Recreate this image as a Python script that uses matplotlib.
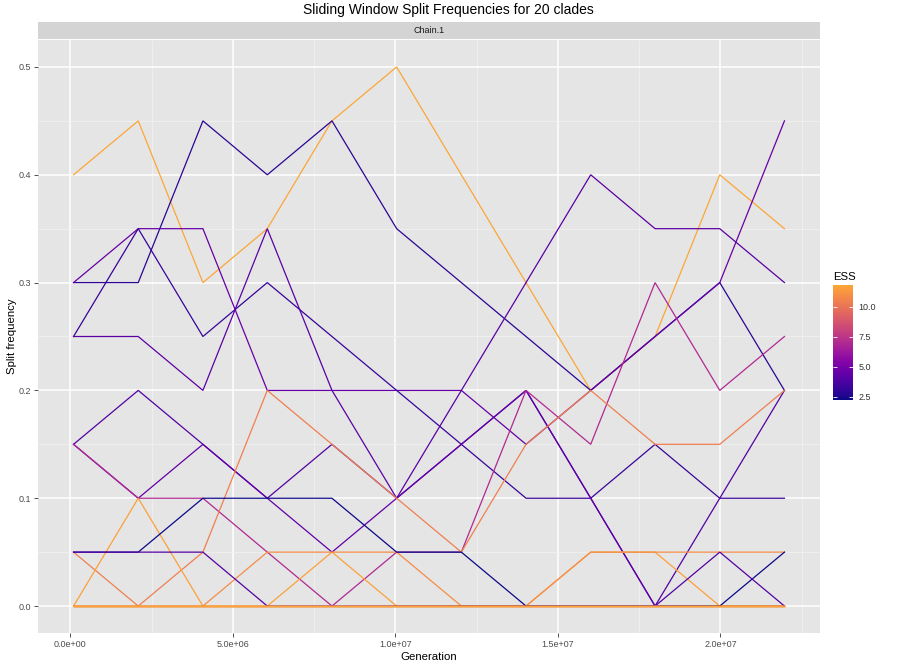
import numpy as np
import matplotlib
matplotlib.use('Agg')
import matplotlib.pyplot as plt
from matplotlib.colors import LinearSegmentedColormap, Normalize

plt.rcParams['font.family'] = ['Liberation Sans', 'DejaVu Sans']

# =============================================================================
# DATA  (split frequency of each clade per sliding window, Chain.1)
# =============================================================================

generations = [0.10e6, 2.09e6, 4.08e6, 6.06e6, 8.05e6, 10.04e6,
               12.03e6, 14.02e6, 16.01e6, 17.99e6, 19.98e6, 21.97e6]

clade_freqs = {
    'clade01': [0.40, 0.45, 0.30, 0.35, 0.45, 0.50, 0.40, 0.30, 0.20, 0.25, 0.40, 0.35],
    'clade02': [0.30, 0.30, 0.45, 0.40, 0.45, 0.35, 0.30, 0.25, 0.20, 0.25, 0.30, 0.20],
    'clade03': [0.30, 0.35, 0.35, 0.20, 0.20, 0.20, 0.20, 0.15, 0.20, 0.25, 0.30, 0.45],
    'clade04': [0.25, 0.35, 0.25, 0.30, 0.25, 0.20, 0.15, 0.10, 0.10, 0.15, 0.10, 0.10],
    'clade05': [0.25, 0.25, 0.20, 0.35, 0.20, 0.10, 0.20, 0.30, 0.40, 0.35, 0.35, 0.30],
    'clade06': [0.15, 0.20, 0.15, 0.10, 0.15, 0.10, 0.15, 0.20, 0.10, 0.00, 0.10, 0.20],
    'clade07': [0.15, 0.10, 0.15, 0.10, 0.05, 0.10, 0.15, 0.20, 0.10, 0.00, 0.00, 0.00],
    'clade08': [0.15, 0.10, 0.10, 0.05, 0.00, 0.05, 0.05, 0.20, 0.15, 0.30, 0.20, 0.25],
    'clade09': [0.05, 0.00, 0.05, 0.20, 0.15, 0.10, 0.05, 0.15, 0.20, 0.15, 0.15, 0.20],
    'clade10': [0.00, 0.10, 0.00, 0.00, 0.05, 0.00, 0.00, 0.00, 0.05, 0.05, 0.00, 0.00],
    'clade11': [0.00, 0.00, 0.00, 0.05, 0.05, 0.05, 0.00, 0.00, 0.05, 0.05, 0.05, 0.05],
    'clade12': [0.05, 0.05, 0.10, 0.10, 0.10, 0.05, 0.05, 0.00, 0.00, 0.00, 0.00, 0.05],
    'clade13': [0.05, 0.05, 0.05, 0.00, 0.00, 0.00, 0.00, 0.00, 0.00, 0.00, 0.05, 0.00],
    'clade14': [0.00, 0.00, 0.00, 0.00, 0.00, 0.00, 0.00, 0.00, 0.00, 0.00, 0.00, 0.00],
    'clade15': [0.00, 0.00, 0.00, 0.00, 0.00, 0.00, 0.00, 0.00, 0.00, 0.00, 0.00, 0.00],
    'clade16': [0.00, 0.00, 0.00, 0.00, 0.00, 0.00, 0.00, 0.00, 0.00, 0.00, 0.00, 0.00],
    'clade17': [0.00, 0.00, 0.00, 0.00, 0.00, 0.00, 0.00, 0.00, 0.00, 0.00, 0.00, 0.00],
    'clade18': [0.00, 0.00, 0.00, 0.00, 0.00, 0.00, 0.00, 0.00, 0.00, 0.00, 0.00, 0.00],
    'clade19': [0.00, 0.00, 0.00, 0.00, 0.00, 0.00, 0.00, 0.00, 0.00, 0.00, 0.00, 0.00],
    'clade20': [0.00, 0.00, 0.00, 0.00, 0.00, 0.00, 0.00, 0.00, 0.00, 0.00, 0.00, 0.00],
}

clade_ess = {
    'clade01': 11.8, 'clade02': 2.9, 'clade03': 4.5, 'clade04': 3.2,
    'clade05': 4.2, 'clade06': 3.9, 'clade07': 4.4, 'clade08': 7.0,
    'clade09': 10.4, 'clade10': 11.6, 'clade11': 10.9, 'clade12': 2.25,
    'clade13': 4.0, 'clade14': 11.2, 'clade15': 10.8, 'clade16': 11.5,
    'clade17': 10.6, 'clade18': 11.0, 'clade19': 11.4, 'clade20': 11.7,
}

x_ticks = [0.0, 5.0e6, 1.0e7, 1.5e7, 2.0e7]
x_tick_labels = ['0.0e+00', '5.0e+06', '1.0e+07', '1.5e+07', '2.0e+07']
y_ticks = [0.0, 0.1, 0.2, 0.3, 0.4, 0.5]
ess_ticks = [2.5, 5.0, 7.5, 10.0]

# =============================================================================
# PLOT
# =============================================================================

W, H = 897, 665
fig = plt.figure(figsize=(W / 100, H / 100), dpi=100)

panel_bg = '#E5E5E5'
strip_bg = '#D4D4D4'

def fx(px):
    return px / W

def fy(py):
    return 1 - py / H

ax = fig.add_axes([fx(38), fy(633), fx(820) - fx(38), fy(40) - fy(633)])
ax.set_facecolor(panel_bg)
for s in ax.spines.values():
    s.set_visible(False)

cmap = LinearSegmentedColormap.from_list(
    'plasma_trunc', plt.get_cmap('plasma')(np.linspace(0.0, 0.8, 256)))
ess_vals = list(clade_ess.values())
norm = Normalize(vmin=min(ess_vals), vmax=max(ess_vals))

for name, freqs in clade_freqs.items():
    ax.plot(generations, freqs, color=cmap(norm(clade_ess[name])), lw=0.9,
            solid_joinstyle='miter', zorder=3)

xr = generations[-1] - generations[0]
ax.set_xlim(generations[0] - 0.05 * xr, generations[-1] + 0.05 * xr)
ax.set_ylim(-0.025, 0.525)

ax.set_xticks(x_ticks)
ax.set_xticklabels(x_tick_labels)
ax.set_yticks(y_ticks)
ax.set_yticklabels([f'{v:.1f}' for v in y_ticks])
ax.set_xticks([2.5e6, 7.5e6, 1.25e7, 1.75e7, 2.25e7], minor=True)
ax.set_yticks([0.05, 0.15, 0.25, 0.35, 0.45], minor=True)
ax.grid(True, which='major', color='white', lw=1.1, zorder=1)
ax.grid(True, which='minor', color='#F2F2F2', lw=0.5, zorder=1)
ax.tick_params(which='major', length=3, width=0.6, color='#333333',
               labelsize=6.5, labelcolor='#4D4D4D', pad=2)
ax.tick_params(which='minor', length=0)
ax.set_xlabel('Generation', fontsize=8.2, labelpad=2)
ax.set_ylabel('Split frequency', fontsize=8.2, labelpad=1)

# facet strip
sax = fig.add_axes([fx(38), fy(39), fx(820) - fx(38), fy(22) - fy(39)])
sax.set_facecolor(strip_bg)
sax.set_xticks([])
sax.set_yticks([])
for s in sax.spines.values():
    s.set_visible(False)
sax.text(0.5, 0.5, 'Chain.1', ha='center', va='center', fontsize=6.5,
         color='#1A1A1A', transform=sax.transAxes)

fig.text(0.5, fy(10), 'Sliding Window Split Frequencies for 20 clades',
         ha='center', va='center', fontsize=10)

# colour bar legend
cax = fig.add_axes([fx(833), fy(400), fx(853) - fx(833), fy(285) - fy(400)])
sm = matplotlib.cm.ScalarMappable(norm=norm, cmap=cmap)
cb = fig.colorbar(sm, cax=cax)
cb.outline.set_visible(False)
cb.set_ticks(ess_ticks)
cb.set_ticklabels([f'{v:.1f}' for v in ess_ticks])
cax.yaxis.set_ticks_position('both')
cax.tick_params(direction='in', length=3, width=0.6, color='white',
                labelsize=6.5, labelcolor='#333333', pad=4, labelleft=False,
                labelright=True)
fig.text(fx(833), fy(277), 'ESS', ha='left', va='center', fontsize=8.2)

fig.savefig('out.png', dpi=100)
